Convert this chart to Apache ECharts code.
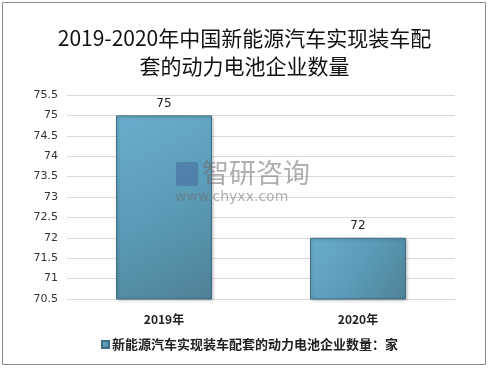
<!DOCTYPE html>
<html><head><meta charset="utf-8">
<script src="https://cdn.jsdelivr.net/npm/echarts@6/dist/echarts.min.js"></script>
<style>html,body{margin:0;padding:0;background:#fff}#c{width:489px;height:369px}</style>
</head><body><div id="c"></div>
<script>
const categories = ['2019年', '2020年'];
const values = [75, 72];
const seriesName = '新能源汽车实现装车配套的动力电池企业数量：家';
const titleText = '2019-2020年中国新能源汽车实现装车配\n套的动力电池企业数量';
const yMin = 70.5, yMax = 75.5, yStep = 0.5;

const chart = echarts.init(document.getElementById('c'), null, {renderer: 'canvas'});
chart.setOption({
  animation: false,
  backgroundColor: '#fff',
  graphic: [
    {type: 'rect', shape: {x: 2.5, y: 2.5, width: 483, height: 362}, style: {fill: 'none', stroke: '#8c8c8c', lineWidth: 1}, z: 0},
    {type: 'text', left: 202, top: 159, style: {text: '智研咨询', font: '27px "Noto Sans CJK SC"', fill: 'rgba(110,110,110,0.55)'}, z: 10},
    {type: 'text', left: 175, top: 190, style: {text: 'www.chyxx.com', font: '14px "DejaVu Sans"', fill: 'rgba(110,110,110,0.55)', letterSpacing: 1}, z: 10},
    {type: 'rect', shape: {x: 176, y: 162, width: 22, height: 24, r: 2}, style: {fill: 'rgba(70,110,160,0.6)'}, z: 10}
  ],
  title: {
    text: titleText,
    left: 'center', top: 19,
    textStyle: {fontFamily: '"Noto Sans CJK SC"', fontSize: 21, fontWeight: 'normal', color: '#111', lineHeight: 28}
  },
  legend: {
    data: [seriesName],
    left: 96, top: 333,
    icon: 'rect', itemWidth: 7, itemHeight: 7, itemGap: 4,
    textStyle: {fontFamily: '"Noto Sans CJK SC"', fontSize: 13, fontWeight: 'bold', color: '#222', padding: [0,0,0,-2]}
  },
  grid: {left: 67, right: 34, top: 95, bottom: 70},
  xAxis: {
    type: 'category', data: categories,
    axisLine: {lineStyle: {color: '#d9d9d9'}},
    axisTick: {show: false},
    axisLabel: {fontFamily: '"Noto Sans CJK SC"', fontSize: 12, fontWeight: 'bold', color: '#222', margin: 14}
  },
  yAxis: {
    type: 'value', min: yMin, max: yMax, interval: yStep,
    axisLine: {show: false}, axisTick: {show: false},
    splitLine: {lineStyle: {color: '#d9d9d9'}},
    axisLabel: {fontFamily: '"DejaVu Sans"', fontSize: 11, color: '#333', margin: 9,
      formatter: v => String(Math.round(v * 10) / 10)}
  },
  series: [{
    name: seriesName, type: 'bar', data: values,
    barWidth: 96,
    itemStyle: {
      color: new echarts.graphic.LinearGradient(0, 0, 1, 1, [
        {offset: 0, color: '#6aadcc'},
        {offset: 0.5, color: '#5b9cb8'},
        {offset: 1, color: '#4f8197'}
      ]),
      borderColor: '#3f6f82', borderWidth: 1,
      shadowColor: 'rgba(0,0,0,0.25)', shadowBlur: 3, shadowOffsetX: 1, shadowOffsetY: 1
    },
    label: {show: true, position: 'top', distance: 6, fontFamily: '"DejaVu Sans"', fontSize: 12, color: '#222'}
  }]
});
</script></body></html>
